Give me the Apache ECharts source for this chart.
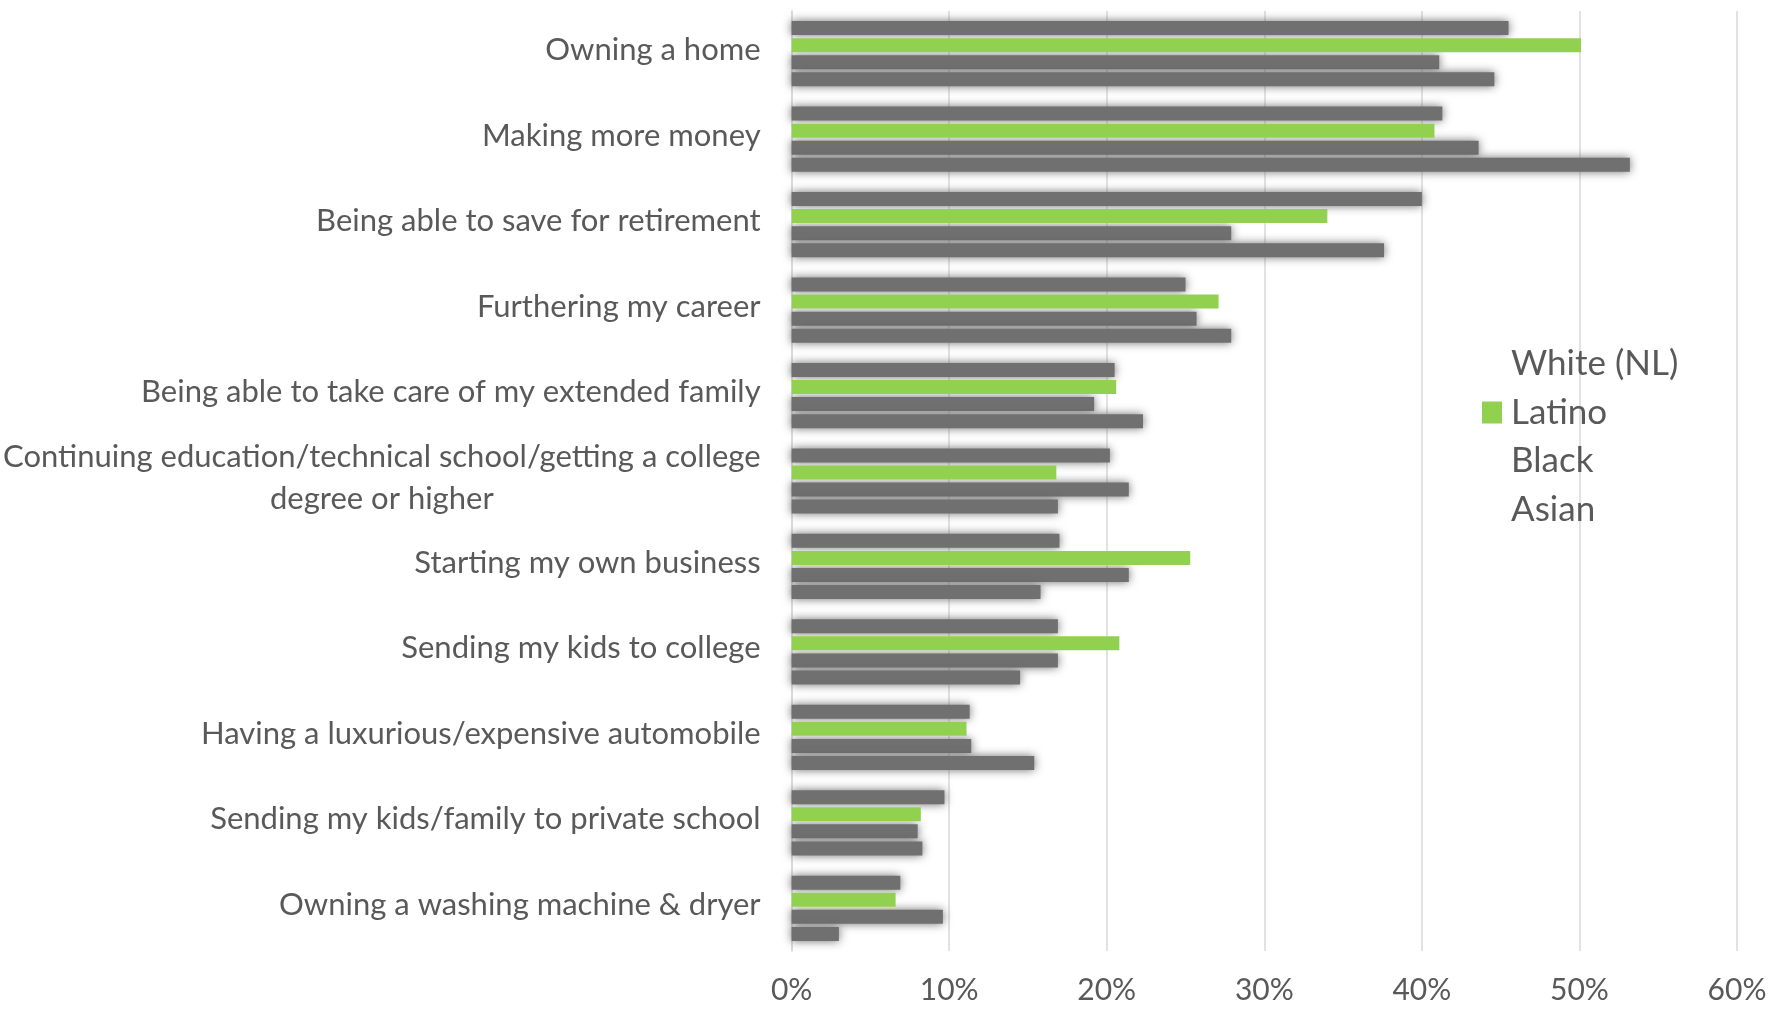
<!DOCTYPE html>
<html>
<head>
<meta charset="utf-8">
<title>Aspirations by group</title>
<script src="https://cdn.jsdelivr.net/npm/echarts@6/dist/echarts.min.js"></script>
<style>
  html, body { margin: 0; padding: 0; background: #ffffff; }
  #chart { width: 1780px; height: 1009px; }
</style>
</head>
<body>
<div id="chart"></div>
<script>
// Goals, top to bottom
const categories = [
  'Owning a home',
  'Making more money',
  'Being able to save for retirement',
  'Furthering my career',
  'Being able to take care of my extended family',
  'Continuing education/technical school/getting a college degree or higher',
  'Starting my own business',
  'Sending my kids to college',
  'Having a luxurious/expensive automobile',
  'Sending my kids/family to private school',
  'Owning a washing machine & dryer'
];

const seriesNames = ['White (NL)', 'Latino', 'Black', 'Asian'];

// Share of respondents (%)
const whiteNL = [45.5, 41.3, 40.0, 25.0, 20.5, 20.2, 17.0, 16.9, 11.3, 9.7, 6.9];
const latino  = [50.1, 40.8, 34.0, 27.1, 20.6, 16.8, 25.3, 20.8, 11.1, 8.2, 6.6];
const black   = [41.1, 43.6, 27.9, 25.7, 19.2, 21.4, 21.4, 16.9, 11.4, 8.0, 9.6];
const asian   = [44.6, 53.2, 37.6, 27.9, 22.3, 16.9, 15.8, 14.5, 15.4, 8.3, 3.0];

const xTicks = { min: 0, max: 60, step: 10 };

const TEXT = '#595959';
const GREEN = '#92D050';
const GREY = '#707070';

const chart = echarts.init(document.getElementById('chart'), null, { renderer: 'canvas' });

// Grey groups are drawn soft-edged
function greySeries(name, data) {
  return {
    name: name,
    type: 'bar',
    data: data,
    barWidth: 14,
    barGap: '22%',
    itemStyle: {
      color: GREY,
      shadowBlur: 10,
      shadowColor: 'rgba(95,95,95,0.9)'
    }
  };
}

const labelFont = 'Lato, "Open Sans", sans-serif';

chart.setOption({
  animation: false,
  backgroundColor: '#ffffff',
  grid: { left: 790, right: 43, top: 11, bottom: 58, containLabel: false },
  legend: {
    orient: 'vertical',
    left: 1477,
    top: 339,
    icon: 'rect',
    itemWidth: 20,
    itemHeight: 22,
    itemGap: 8.5,
    selectedMode: false,
    textStyle: { color: TEXT, fontSize: 35, fontFamily: labelFont, lineHeight: 40, padding: [0, 0, 0, 4] },
    data: seriesNames.map(function (n) {
      return n === 'Latino'
        ? { name: n, itemStyle: { color: GREEN } }
        : { name: n, itemStyle: { color: 'rgba(0,0,0,0)', shadowBlur: 0, shadowColor: 'rgba(0,0,0,0)' } };
    })
  },
  xAxis: {
    type: 'value',
    min: xTicks.min,
    max: xTicks.max,
    interval: xTicks.step,
    axisLine: { show: false },
    axisTick: { show: false },
    splitLine: { show: true, lineStyle: { color: '#d9d9d9', width: 1.5 } },
    axisLabel: {
      color: TEXT,
      fontSize: 30,
      fontFamily: labelFont,
      margin: 24,
      formatter: '{value}%'
    }
  },
  yAxis: {
    type: 'category',
    inverse: true,
    data: categories,
    axisLine: { show: true, lineStyle: { color: '#d9d9d9', width: 1.5 } },
    axisTick: { show: false },
    axisLabel: {
      color: TEXT,
      fontSize: 31,
      fontFamily: labelFont,
      margin: 31,
      lineHeight: 42,
      padding: [0, 0, 7, 0],
      formatter: function (v) {
        if (v.indexOf('Continuing') === 0) {
          return '{c|Continuing education/technical school/getting a college}\n{c|degree or higher}';
        }
        return v;
      },
      rich: {
        c: { align: 'center', color: TEXT, fontSize: 31, fontFamily: labelFont, lineHeight: 42 }
      }
    }
  },
  series: [
    greySeries(seriesNames[0], whiteNL),
    {
      name: seriesNames[1],
      type: 'bar',
      data: latino,
      barWidth: 14,
      barGap: '22%',
      z: 3,
      itemStyle: { color: GREEN }
    },
    greySeries(seriesNames[2], black),
    greySeries(seriesNames[3], asian)
  ]
});
</script>
</body>
</html>
